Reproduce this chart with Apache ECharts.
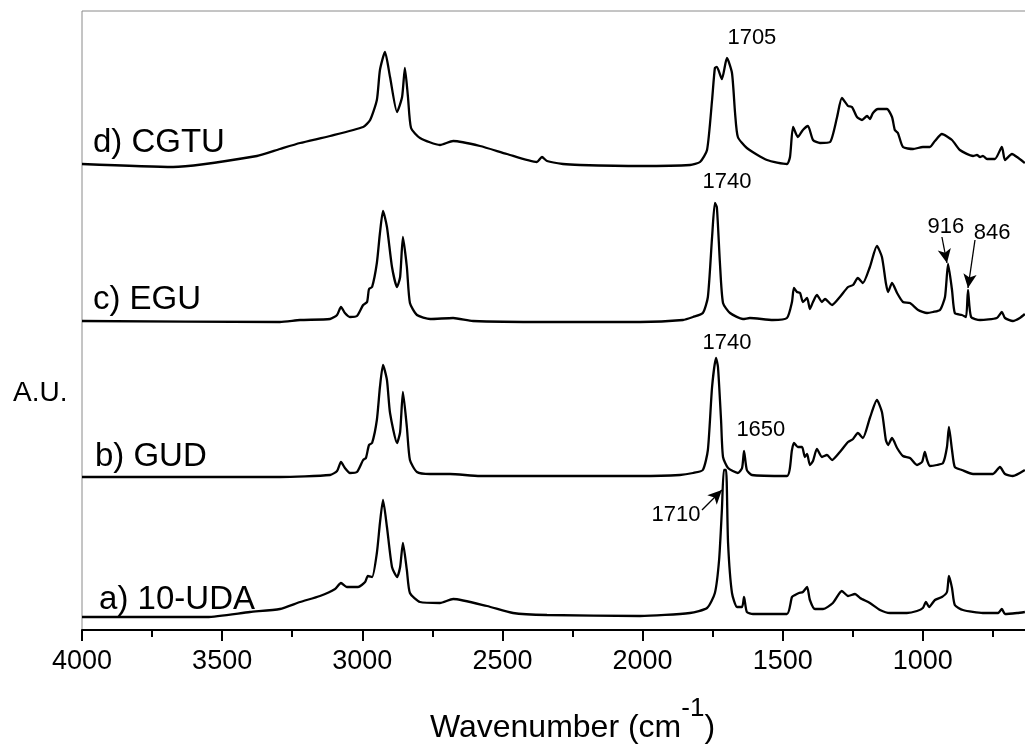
<!DOCTYPE html>
<html><head><meta charset="utf-8">
<script src="https://cdn.jsdelivr.net/npm/echarts@6/dist/echarts.min.js"></script>
<style>html,body{margin:0;padding:0;background:#fff}#c{width:1025px;height:748px}</style>
</head><body><div id="c"></div>
<script>
const FONT = '"Liberation Sans", Arial, Helvetica, sans-serif';

// x-axis tick labels (cm^-1)
const xTickLabels = [4000, 3500, 3000, 2500, 2000, 1500, 1000];

// spectra: [wavenumber, offset absorbance (arbitrary units)]
const cgtu = [[4000,466],[3675,463],[3376,474],[3294,481],[3222,487],[3115,494],[2997,503],[2972,510],[2948,530],[2937,560],[2919,578],[2901,553],[2876,518],[2858,533],[2848,562],[2837,533],[2826,502],[2794,492],[2723,485],[2676,489],[2580,484],[2484,476],[2377,468],[2359,473],[2341,469],[2284,466],[2223,465],[2009,464],[1831,465],[1795,468],[1770,480],[1752,530],[1742,562],[1735,563],[1717,551],[1699,572],[1681,557],[1670,517],[1660,493],[1628,482],[1556,470],[1485,466],[1474,473],[1463,503],[1446,493],[1428,500],[1410,504],[1392,490],[1367,487],[1331,488],[1306,513],[1289,532],[1267,524],[1253,523],[1235,513],[1217,510],[1199,514],[1189,511],[1178,517],[1160,521],[1128,521],[1110,513],[1100,500],[1089,497],[1071,483],[1035,481],[1000,483],[975,483],[957,489],[932,496],[896,490],[868,480],[821,474],[807,475],[796,473],[786,474],[771,471],[743,471],[718,483],[707,470],[682,476],[664,473],[636,467]];

const egu = [[4000,309],[3294,308],[3222,310],[3115,311],[3090,315],[3076,323],[3062,317],[3044,313],[3019,314],[2997,325],[2983,328],[2976,341],[2965,343],[2948,367],[2937,397],[2926,419],[2912,403],[2894,363],[2876,343],[2865,353],[2855,393],[2841,363],[2830,327],[2805,315],[2758,311],[2676,312],[2605,309],[2341,308],[2009,308],[1856,310],[1820,313],[1785,317],[1767,333],[1752,393],[1742,427],[1735,423],[1724,367],[1713,327],[1688,317],[1642,311],[1617,312],[1535,310],[1485,312],[1467,328],[1460,342],[1449,338],[1438,337],[1428,328],[1413,332],[1403,321],[1392,328],[1378,335],[1360,328],[1349,331],[1324,325],[1296,333],[1267,343],[1249,345],[1232,352],[1214,347],[1189,363],[1164,384],[1146,373],[1132,347],[1124,338],[1110,347],[1092,337],[1071,328],[1046,327],[1017,320],[985,317],[964,318],[939,320],[921,333],[910,366],[896,340],[886,317],[861,315],[846,313],[839,340],[828,313],[796,310],[736,312],[718,318],[707,312],[679,309],[654,312],[636,316]];

const gud = [[4000,153],[3294,153],[3115,155],[3090,159],[3076,168],[3062,162],[3044,157],[3019,158],[2997,170],[2987,172],[2976,185],[2965,187],[2948,210],[2937,243],[2926,265],[2912,250],[2901,217],[2876,187],[2865,198],[2855,238],[2841,203],[2830,170],[2805,158],[2758,156],[2687,156],[2580,154],[2009,154],[1867,155],[1820,157],[1785,160],[1767,180],[1752,243],[1738,272],[1731,263],[1720,210],[1713,173],[1695,162],[1660,157],[1645,162],[1638,179],[1628,160],[1610,155],[1485,154],[1467,180],[1460,187],[1446,183],[1431,183],[1421,173],[1413,176],[1403,165],[1392,169],[1378,181],[1360,173],[1342,175],[1324,170],[1296,178],[1267,188],[1249,191],[1232,197],[1214,192],[1189,212],[1164,230],[1146,218],[1132,190],[1124,185],[1110,192],[1092,182],[1071,174],[1046,172],[1021,165],[1003,168],[993,178],[985,170],[975,164],[950,165],[928,167],[914,183],[907,203],[896,180],[886,163],[861,160],[821,156],[750,156],[725,163],[707,156],[679,154],[636,160]];

const uda = [[4000,13],[3554,13],[3401,18],[3294,21],[3222,28],[3151,34],[3097,41],[3076,47],[3055,43],[3015,43],[2990,48],[2980,54],[2965,53],[2948,77],[2937,107],[2926,130],[2912,103],[2894,63],[2876,53],[2865,63],[2855,87],[2841,60],[2830,37],[2794,28],[2723,27],[2676,31],[2555,24],[2462,17],[2341,15],[2009,14],[1831,17],[1770,22],[1742,37],[1727,70],[1717,120],[1710,160],[1702,160],[1695,87],[1681,37],[1663,23],[1645,23],[1638,33],[1628,18],[1606,16],[1485,16],[1467,33],[1456,35],[1442,37],[1428,38],[1413,43],[1403,30],[1385,21],[1356,21],[1321,27],[1289,39],[1267,34],[1242,36],[1224,32],[1189,27],[1153,20],[1117,17],[1057,17],[1021,19],[1000,22],[989,28],[978,23],[957,30],[932,33],[914,38],[907,54],[896,42],[886,25],[857,20],[786,17],[732,17],[718,21],[707,16],[664,17],[636,18]];

// spectrum names and where they are written (data coords)
const specNames = ['d) CGTU', 'c) EGU', 'b) GUD', 'a) 10-UDA'];
const specNameWn = [3961, 3961, 3954, 3939];
const specNameH = [487, 330, 173, 30];

// peak annotations (data coords)
const annoText = ['1705', '1740', '1740', '1650', '916', '846', '1710'];
const annoWn = [1610, 1699, 1699, 1578, 918, 753, 1881];
const annoH = [592, 448, 287, 200, 403, 397, 115];

// arrows: from -> to (data coords)
const arrowFrom = [[1788, 120], [932, 393], [814, 390]];
const arrowTo = [[1717, 140], [914, 367], [839, 342]];

const lineSeries = (data) => ({
  type: 'line', data, showSymbol: false, symbol: 'none', smooth: 0.2,
  lineStyle: { color: '#000', width: 2.3 }, silent: true, z: 3
});

const chart = echarts.init(document.getElementById('c'), null, { renderer: 'canvas' });
chart.setOption({
  animation: false,
  backgroundColor: '#fff',
  grid: { left: 82, top: 11, width: 981, height: 619, outerBoundsMode: 'none', containLabel: false,
    show: true, borderColor: '#8a8a8a', borderWidth: 1, backgroundColor: 'transparent' },
  xAxis: {
    type: 'value', inverse: true, min: 500, max: 4000, interval: 500,
    axisLine: { onZero: false, lineStyle: { color: '#000', width: 2 } },
    axisTick: { show: true, inside: false, length: 11, lineStyle: { color: '#000', width: 2 } },
    minorTick: { show: true, splitNumber: 2, length: 7, lineStyle: { color: '#000', width: 2 } },
    splitLine: { show: false }, minorSplitLine: { show: false },
    axisLabel: { fontSize: 27, color: '#000', fontFamily: FONT, margin: 18,
      formatter: v => xTickLabels.includes(v) ? String(v) : '' },
    name: '{a|Wavenumber (cm}{s|-1}{a|)}',
    nameLocation: 'middle', nameGap: 66,
    nameTextStyle: {
      rich: {
        a: { fontSize: 32, fontFamily: FONT, color: '#000', lineHeight: 48, verticalAlign: 'bottom' },
        s: { fontSize: 26, fontFamily: FONT, color: '#000', lineHeight: 48, verticalAlign: 'top' }
      }
    }
  },
  yAxis: {
    type: 'value', min: 0, max: 619,
    axisLine: { show: false }, axisTick: { show: false }, axisLabel: { show: false }, splitLine: { show: false }
  },
  graphic: [
    { type: 'text', left: 13, top: 379, style: { text: 'A.U.', fontSize: 28, fontFamily: FONT, fill: '#000' } }
  ],
  series: [
    lineSeries(cgtu),
    Object.assign(lineSeries(egu), {
      markLine: {
        silent: true, symbol: ['none', 'arrow'], symbolSize: [10, 14], label: { show: false },
        lineStyle: { color: '#000', width: 1.3, type: 'solid' },
        data: arrowFrom.map((f, i) => [{ coord: f }, { coord: arrowTo[i] }])
      }
    }),
    lineSeries(gud),
    lineSeries(uda),
    {
      type: 'scatter', silent: true, symbolSize: 1, itemStyle: { color: 'rgba(0,0,0,0)', opacity: 1 }, z: 5,
      data: annoText.map((t, i) => [annoWn[i], annoH[i], t]),
      label: { show: true, position: 'inside', formatter: p => p.data[2], fontSize: 22, fontFamily: FONT, color: '#000', opacity: 1 }
    },
    {
      type: 'scatter', silent: true, symbolSize: 1, itemStyle: { color: 'rgba(0,0,0,0)', opacity: 1 }, z: 5,
      data: specNames.map((t, i) => [specNameWn[i], specNameH[i], t]),
      label: { show: true, position: 'inside', align: 'left', formatter: p => p.data[2], fontSize: 33, fontFamily: FONT, color: '#000', opacity: 1 }
    }
  ]
});
</script>
</body></html>
